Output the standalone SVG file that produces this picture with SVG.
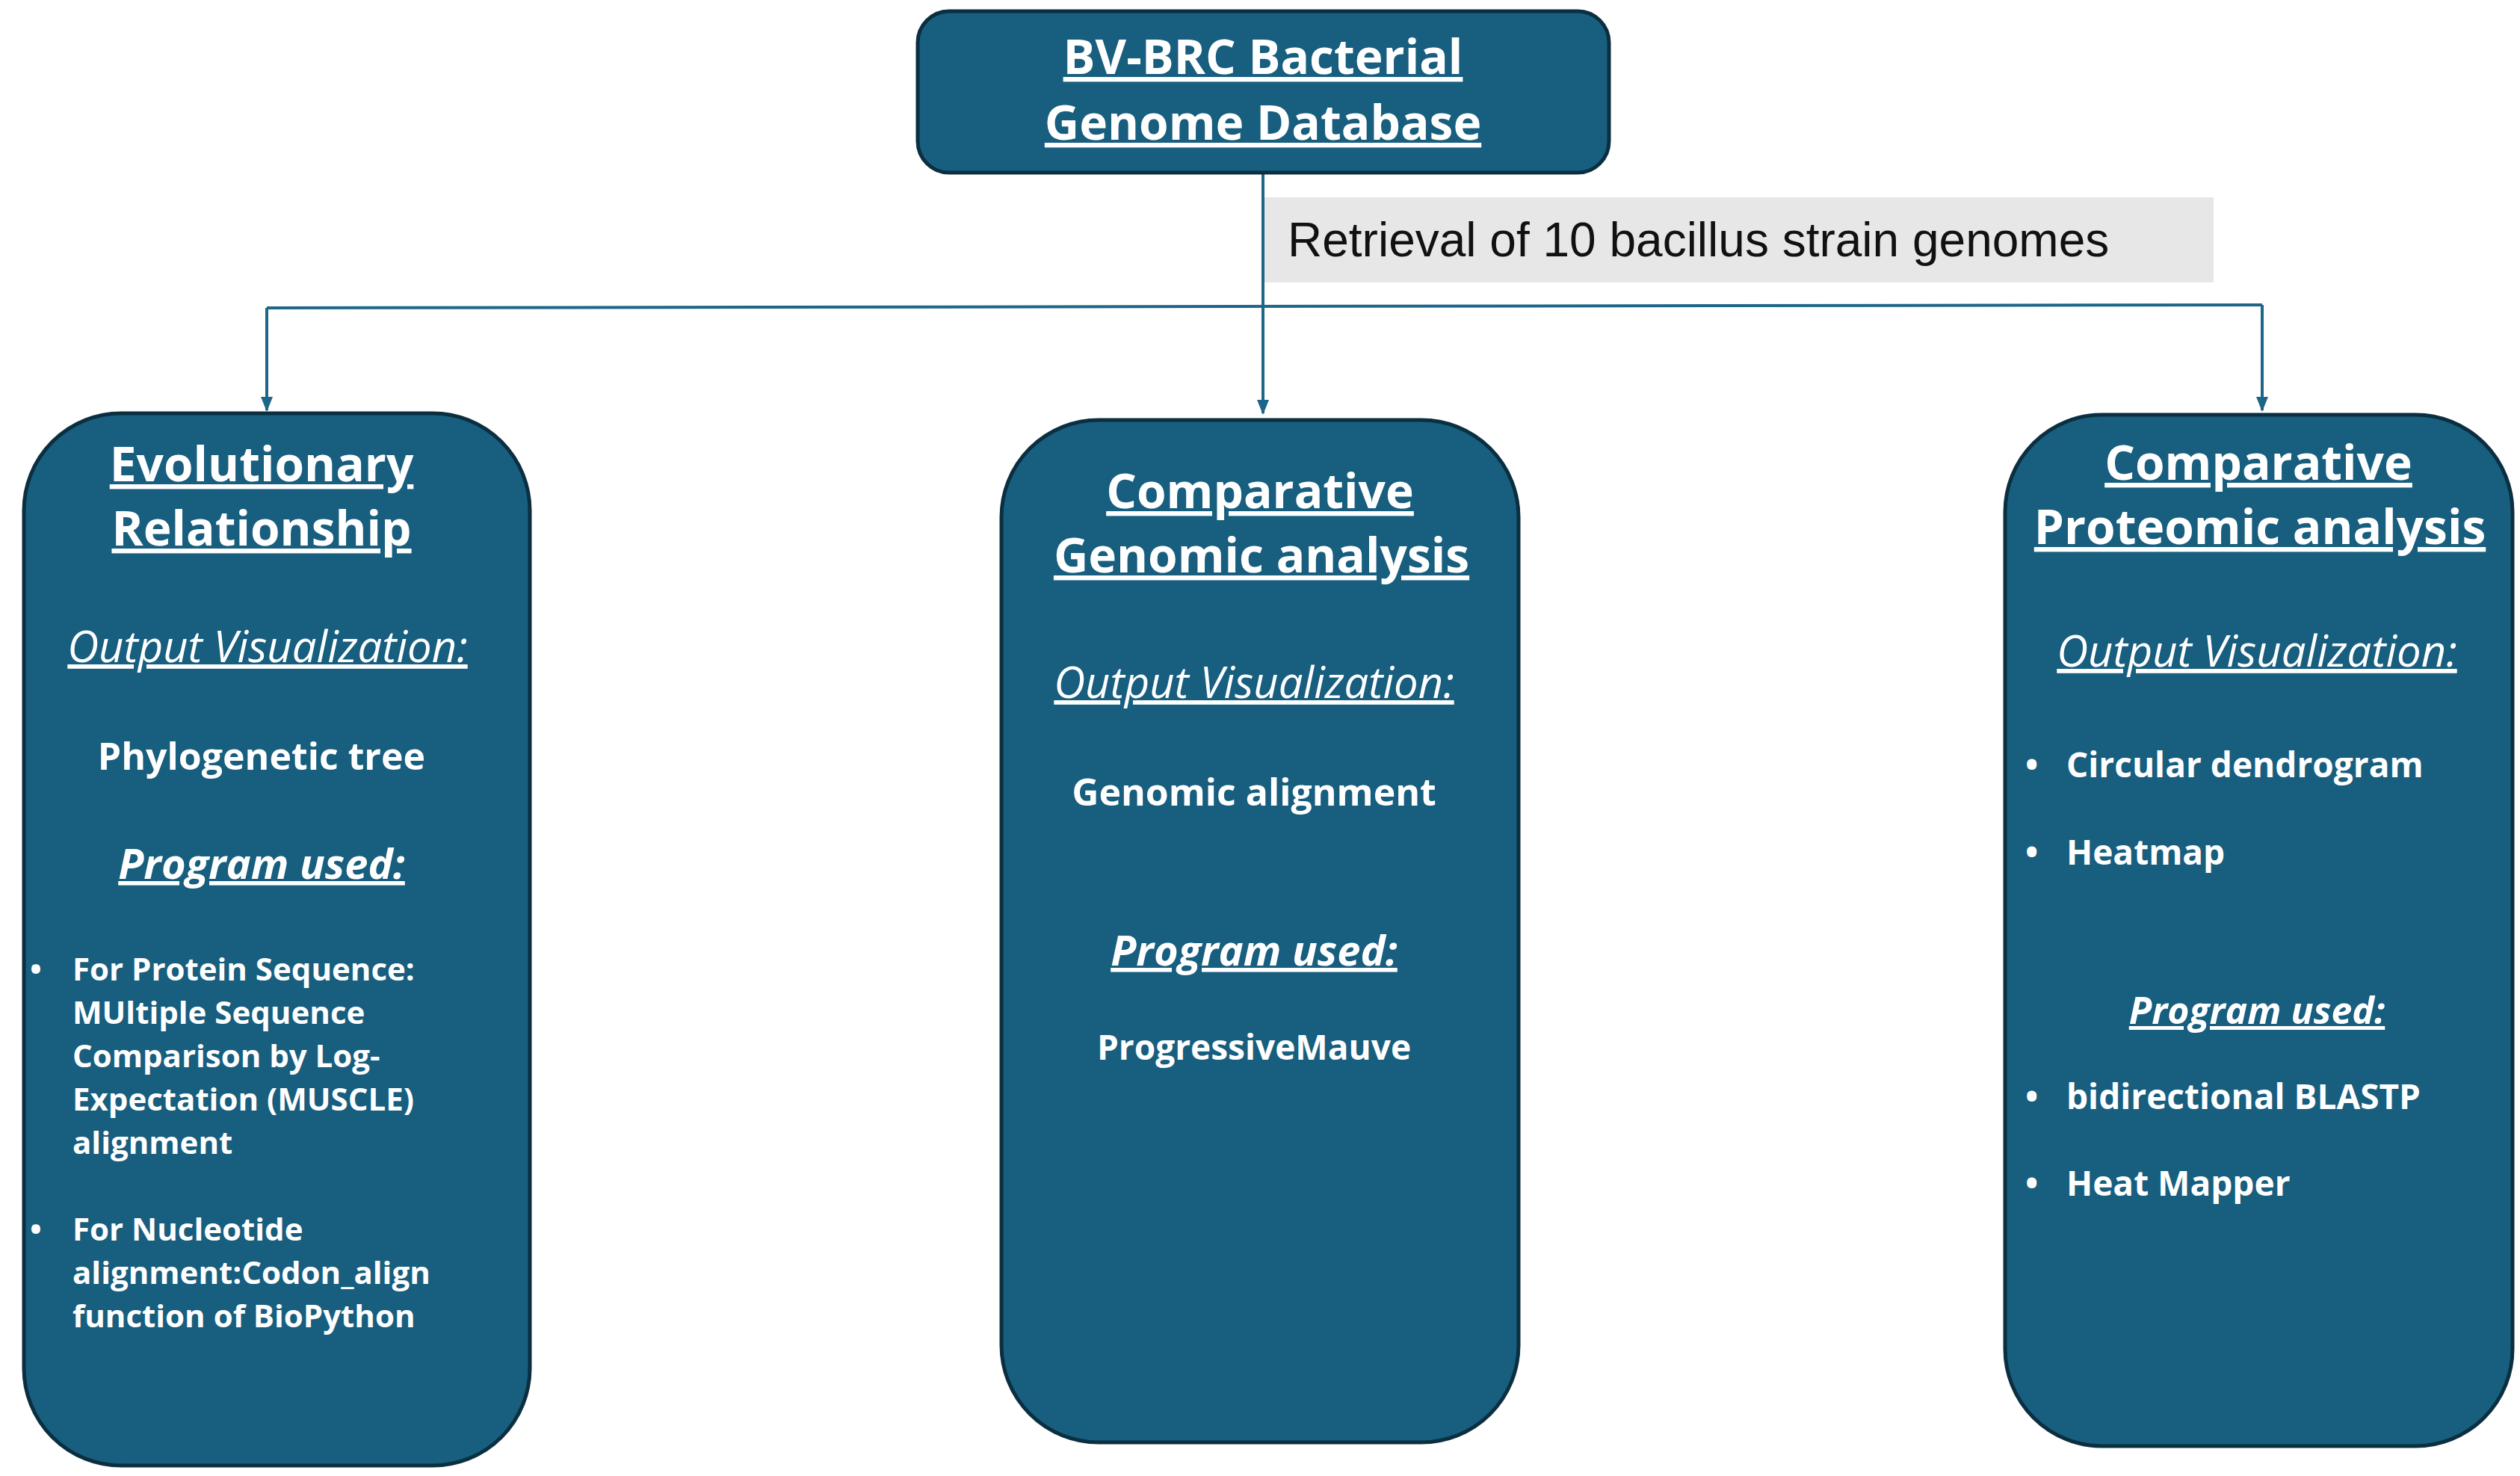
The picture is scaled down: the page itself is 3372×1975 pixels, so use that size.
<svg xmlns="http://www.w3.org/2000/svg" width="3372" height="1975" viewBox="0 0 3372 1975">
<style>
.box{fill:#175E7F;stroke:#0B2F40;stroke-width:5}
text{fill:#fff;font-family:"Open Sans","Liberation Sans",sans-serif}
.h{font-weight:700;font-size:64px;text-anchor:middle;text-decoration:underline}
.ov{font-style:italic;font-size:58px;text-anchor:middle;text-decoration:underline}
.b{font-weight:700;font-size:50px;text-anchor:middle}
.pu{font-weight:700;font-style:italic;font-size:56px;text-anchor:middle;text-decoration:underline}
.s{font-weight:700;font-size:42px}
.r{font-weight:700;font-size:46px}
.c{stroke:#1D6688;stroke-width:4;fill:none}
</style>
<defs><marker id="a" markerWidth="10" markerHeight="10" refX="8" refY="5" orient="auto" markerUnits="userSpaceOnUse" viewBox="0 0 10 10"><path d="M0,0 L10,5 L0,10z" fill="#1D6688" transform="scale(1)"/></marker>
<marker id="m" markerWidth="20" markerHeight="24" refX="18" refY="10" orient="auto" markerUnits="userSpaceOnUse"><path d="M0,2 L20,10 L0,18z" fill="#1D6688"/></marker></defs>
<g id="connectors">
<line class="c" x1="1690" y1="231" x2="1690" y2="410"/>
<line class="c" x1="357" y1="412" x2="3027" y2="408" stroke-width="6"/>
<line class="c" x1="1690" y1="410" x2="1690" y2="553" marker-end="url(#m)"/>
<line class="c" x1="357" y1="412" x2="357" y2="549" marker-end="url(#m)"/>
<line class="c" x1="3027" y1="408" x2="3027" y2="549" marker-end="url(#m)"/>
</g>
<g id="label"><rect x="1692" y="264" width="1270" height="114" fill="#E7E7E7"/>
<text x="1723" y="343" style="fill:#111;font-family:'Liberation Sans',sans-serif;font-size:64px">Retrieval of 10 bacillus strain genomes</text></g>
<g id="top"><rect class="box" x="1228" y="15" width="925" height="216" rx="42"/>
<text class="h" x="1690" y="99">BV-BRC Bacterial</text>
<text class="h" x="1690" y="187">Genome Database</text></g>
<g id="left"><rect class="box" x="32" y="553" width="677" height="1408" rx="130"/>
<text class="h" x="350" y="644">Evolutionary</text>
<text class="h" x="350" y="730">Relationship</text>
<text class="ov" x="358" y="886">Output  Visualization:</text>
<text class="b" x="350" y="1030">Phylogenetic tree</text>
<text class="pu" x="350" y="1176">Program used:</text>
<text class="s" x="40" y="1312">•</text>
<text class="s" x="97" y="1312">For Protein Sequence:</text>
<text class="s" x="97" y="1370">MUltiple Sequence</text>
<text class="s" x="97" y="1428">Comparison by Log-</text>
<text class="s" x="97" y="1486">Expectation (MUSCLE)</text>
<text class="s" x="97" y="1544">alignment</text>
<text class="s" x="40" y="1660">•</text>
<text class="s" x="97" y="1660">For Nucleotide</text>
<text class="s" x="97" y="1718">alignment:Codon_align</text>
<text class="s" x="97" y="1776">function of BioPython</text></g>
<g id="middle"><rect class="box" x="1340" y="562" width="692" height="1368" rx="130"/>
<text class="h" x="1686" y="680">Comparative</text>
<text class="h" x="1688" y="766">Genomic analysis</text>
<text class="ov" x="1678" y="934">Output  Visualization:</text>
<text class="b" x="1678" y="1078">Genomic alignment</text>
<text class="pu" x="1678" y="1292">Program used:</text>
<text class="r" x="1678" y="1418" style="text-anchor:middle">ProgressiveMauve</text></g>
<g id="right"><rect class="box" x="2683" y="555" width="679" height="1380" rx="130"/>
<text class="h" x="3022" y="642">Comparative</text>
<text class="h" x="3024" y="728">Proteomic analysis</text>
<text class="ov" x="3020" y="892">Output  Visualization:</text>
<text class="r" x="2710" y="1040">•</text>
<text class="r" x="2765" y="1040">Circular dendrogram</text>
<text class="r" x="2710" y="1157">•</text>
<text class="r" x="2765" y="1157">Heatmap</text>
<text class="pu" x="3020" y="1370" style="font-size:50px">Program used:</text>
<text class="r" x="2710" y="1484">•</text>
<text class="r" x="2765" y="1484">bidirectional BLASTP</text>
<text class="r" x="2710" y="1600">•</text>
<text class="r" x="2765" y="1600">Heat Mapper</text></g>
</svg>
